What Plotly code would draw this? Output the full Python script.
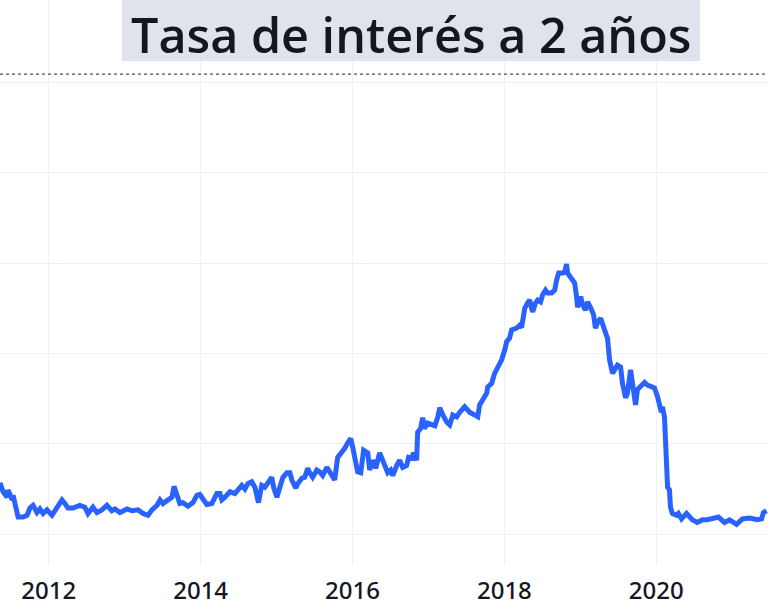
import plotly.graph_objects as go

title_text = "Tasa de interés a 2 años"

dates = [
    "2011-05-12", "2011-05-27", "2011-06-15", "2011-06-19", "2011-06-29", "2011-07-09", "2011-07-14", "2011-07-23",
    "2011-08-02", "2011-08-07", "2011-08-31", "2011-09-19", "2011-10-03", "2011-10-18", "2011-11-06", "2011-11-20",
    "2011-12-05", "2011-12-24", "2012-01-17", "2012-02-10", "2012-03-05", "2012-03-19", "2012-04-03", "2012-04-27",
    "2012-05-30", "2012-06-23", "2012-07-08", "2012-08-01", "2012-08-20", "2012-09-13", "2012-10-07", "2012-10-31",
    "2012-11-15", "2012-12-09", "2013-01-12", "2013-02-05", "2013-03-06", "2013-03-30", "2013-04-23", "2013-05-12",
    "2013-06-05", "2013-06-20", "2013-07-04", "2013-07-28", "2013-08-16", "2013-08-26", "2013-09-09", "2013-09-23",
    "2013-10-08", "2013-11-01", "2013-11-25", "2013-12-14", "2013-12-28", "2014-01-12", "2014-01-31", "2014-02-24",
    "2014-03-20", "2014-04-04", "2014-04-13", "2014-04-28", "2014-05-22", "2014-06-15", "2014-07-09", "2014-07-18",
    "2014-08-02", "2014-08-16", "2014-09-04", "2014-09-19", "2014-10-06", "2014-10-22", "2014-11-06", "2014-11-20",
    "2014-12-09", "2014-12-19", "2015-01-03", "2015-01-17", "2015-02-01", "2015-02-20", "2015-03-06", "2015-03-16",
    "2015-04-04", "2015-04-13", "2015-05-03", "2015-05-17", "2015-05-31", "2015-06-10", "2015-06-24", "2015-07-14",
    "2015-07-28", "2015-08-11", "2015-08-31", "2015-09-14", "2015-09-28", "2015-10-08", "2015-10-22", "2015-11-11",
    "2015-11-25", "2015-12-09", "2015-12-24", "2016-01-03", "2016-01-12", "2016-01-26", "2016-02-10", "2016-02-24",
    "2016-03-15", "2016-03-24", "2016-04-08", "2016-04-22", "2016-05-11", "2016-05-21", "2016-06-05", "2016-06-19",
    "2016-07-03", "2016-07-13", "2016-08-01", "2016-08-15", "2016-08-30", "2016-09-18", "2016-09-27", "2016-10-12",
    "2016-10-21", "2016-11-05", "2016-11-10", "2016-11-24", "2016-12-04", "2016-12-13", "2016-12-28", "2017-01-17",
    "2017-02-01", "2017-02-15", "2017-02-24", "2017-03-11", "2017-03-30", "2017-04-13", "2017-04-28", "2017-05-17",
    "2017-05-31", "2017-06-24", "2017-07-18", "2017-08-11", "2017-08-26", "2017-09-04", "2017-09-19", "2017-10-08",
    "2017-10-13", "2017-11-01", "2017-11-15", "2017-11-30", "2017-12-19", "2018-01-03", "2018-01-12", "2018-01-26",
    "2018-02-05", "2018-03-01", "2018-03-15", "2018-03-25", "2018-03-30", "2018-04-09", "2018-04-23", "2018-05-03",
    "2018-05-12", "2018-05-17", "2018-05-31", "2018-06-10", "2018-06-24", "2018-07-04", "2018-07-18", "2018-07-28",
    "2018-08-16", "2018-08-31", "2018-09-09", "2018-09-19", "2018-10-08", "2018-10-18", "2018-10-27", "2018-11-01",
    "2018-11-16", "2018-11-25", "2018-12-05", "2018-12-14", "2018-12-19", "2019-01-03", "2019-01-12", "2019-01-26",
    "2019-02-05", "2019-02-19", "2019-03-06", "2019-03-15", "2019-03-25", "2019-04-09", "2019-04-18", "2019-05-07",
    "2019-05-12", "2019-05-22", "2019-06-05", "2019-06-15", "2019-06-29", "2019-07-14", "2019-07-23", "2019-08-07",
    "2019-08-16", "2019-08-31", "2019-09-09", "2019-09-24", "2019-10-03", "2019-10-22", "2019-11-06", "2019-11-20",
    "2019-12-09", "2019-12-24", "2020-01-08", "2020-01-17", "2020-01-26", "2020-01-31", "2020-02-10", "2020-02-15",
    "2020-02-19", "2020-02-25", "2020-03-05", "2020-03-10", "2020-03-19", "2020-04-08", "2020-04-17", "2020-05-02",
    "2020-05-26", "2020-06-09", "2020-06-23", "2020-07-17", "2020-08-11", "2020-09-04", "2020-09-28", "2020-10-27",
    "2020-11-25", "2020-12-19", "2021-01-22", "2021-02-19", "2021-03-25", "2021-05-03", "2021-05-22", "2021-05-31",
    "2021-06-15",
]

yields = [
    0.57, 0.47, 0.41, 0.49, 0.44, 0.38, 0.43, 0.35,
    0.23, 0.19, 0.19, 0.21, 0.29, 0.32, 0.24, 0.28,
    0.23, 0.27, 0.21, 0.29, 0.38, 0.34, 0.29, 0.29,
    0.32, 0.30, 0.23, 0.30, 0.24, 0.27, 0.32, 0.26,
    0.28, 0.24, 0.28, 0.26, 0.27, 0.23, 0.21, 0.27,
    0.32, 0.38, 0.34, 0.38, 0.41, 0.53, 0.41, 0.34,
    0.35, 0.31, 0.35, 0.43, 0.44, 0.40, 0.33, 0.34,
    0.45, 0.45, 0.38, 0.41, 0.47, 0.45, 0.52, 0.54,
    0.50, 0.56, 0.58, 0.52, 0.35, 0.54, 0.52, 0.57,
    0.63, 0.51, 0.41, 0.52, 0.63, 0.68, 0.68, 0.60,
    0.51, 0.56, 0.62, 0.63, 0.73, 0.68, 0.63, 0.71,
    0.69, 0.65, 0.74, 0.69, 0.63, 0.60, 0.85, 0.90,
    0.95, 1.01, 1.06, 0.96, 0.82, 0.69, 0.68, 0.93,
    0.90, 0.71, 0.82, 0.73, 0.90, 0.85, 0.75, 0.68,
    0.71, 0.65, 0.76, 0.82, 0.74, 0.76, 0.85, 0.84,
    0.90, 0.82, 1.13, 1.17, 1.29, 1.17, 1.23, 1.21,
    1.20, 1.30, 1.40, 1.32, 1.24, 1.21, 1.32, 1.30,
    1.35, 1.41, 1.35, 1.32, 1.30, 1.43, 1.48, 1.56,
    1.63, 1.67, 1.78, 1.85, 1.93, 2.04, 2.13, 2.17,
    2.26, 2.28, 2.31, 2.29, 2.37, 2.50, 2.56, 2.59,
    2.50, 2.46, 2.56, 2.59, 2.57, 2.65, 2.70, 2.67,
    2.67, 2.70, 2.81, 2.89, 2.89, 2.90, 2.99, 2.89,
    2.84, 2.81, 2.78, 2.63, 2.51, 2.63, 2.54, 2.48,
    2.57, 2.51, 2.43, 2.28, 2.34, 2.39, 2.34, 2.20,
    2.17, 1.93, 1.78, 1.82, 1.87, 1.85, 1.67, 1.51,
    1.56, 1.82, 1.67, 1.43, 1.60, 1.65, 1.68, 1.65,
    1.63, 1.62, 1.52, 1.45, 1.35, 1.41, 1.30, 1.04,
    0.74, 0.52, 0.49, 0.30, 0.23, 0.21, 0.23, 0.17,
    0.23, 0.19, 0.16, 0.13, 0.16, 0.16, 0.18, 0.19,
    0.13, 0.16, 0.11, 0.17, 0.18, 0.16, 0.17, 0.24,
    0.26,
]

x_range = ["2011-05-12", "2021-06-22"]
y_range = [-0.34, 5.91]
y_grid = [0, 1, 2, 3, 4, 5]
ref_level = 5.09

fig = go.Figure()
fig.add_trace(go.Scatter(
    x=dates, y=yields, mode="lines",
    line=dict(color="#2962ff", width=5),
    hoverinfo="skip", showlegend=False,
))

fig.add_shape(type="line", xref="paper", x0=0, x1=1, yref="y", y0=ref_level, y1=ref_level,
              line=dict(color="#3f5173", width=1.2, dash="dot"))

# title background box
fig.add_shape(type="rect", xref="paper", yref="paper",
              x0=122 / 768, x1=700 / 768, y0=1 - 61 / 565, y1=1.0,
              fillcolor="#e0e3eb", line=dict(width=0), layer="above")

fig.add_annotation(
    text=title_text, xref="paper", yref="paper", x=0.5352, y=1.0,
    xanchor="center", yanchor="top", showarrow=False, yshift=0,
    font=dict(family="Open Sans", size=48.5, color="#131722", weight=600),
    borderpad=0,
)

fig.update_layout(
    width=768, height=607,
    margin=dict(l=0, r=0, t=0, b=42),
    paper_bgcolor="white", plot_bgcolor="white",
    xaxis=dict(
        type="date", range=x_range, tick0="2012-01-01", dtick="M24", tickformat="%Y",
        showgrid=True, gridcolor="#eef0f5", gridwidth=1, zeroline=False, showline=False,
        ticks="", ticklabelstandoff=9,
        tickfont=dict(family="Noto Sans", size=24, color="#131722", weight=500),
    ),
    yaxis=dict(
        range=y_range, tickvals=y_grid, showticklabels=False,
        showgrid=True, gridcolor="#eef0f5", gridwidth=1, zeroline=False, showline=False,
    ),
)

fig.write_html("out.html", config={"displayModeBar": False},
               post_script="document.body.style.margin='0';document.body.style.overflow='hidden';")
